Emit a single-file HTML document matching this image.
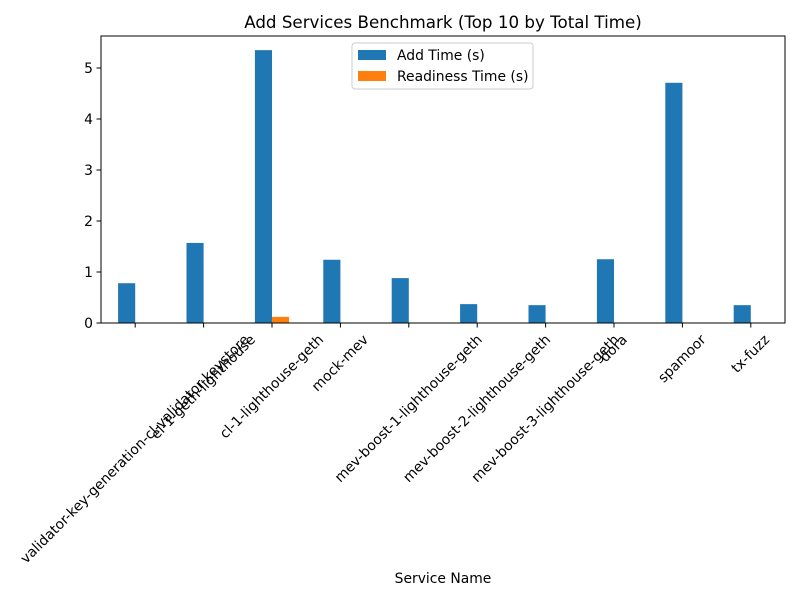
<!DOCTYPE html>
<html><head><meta charset="utf-8"><style>
body{margin:0;background:#fff}
svg{display:block;font-family:"DejaVu Sans","Liberation Sans",sans-serif}
</style></head><body>
<svg id="chart" width="800" height="600" viewBox="0 0 800 600">
<rect width="800" height="600" fill="#fff"/>
<text x="443" y="28" text-anchor="middle" font-size="16.7">Add Services Benchmark (Top 10 by Total Time)</text>
<g id="bars"></g>
<g id="axes"></g>
<text x="443" y="583" text-anchor="middle" font-size="13.9">Service Name</text>
<g>
<rect x="352" y="43" width="181" height="46" rx="3" fill="#fff" stroke="#ccc" fill-opacity="0.8"/>
<rect x="358" y="50" width="28" height="10" fill="#1f77b4"/>
<text x="397" y="60" font-size="13.9">Add Time (s)</text>
<rect x="358" y="71" width="28" height="10" fill="#ff7f0e"/>
<text x="397" y="81" font-size="13.9">Readiness Time (s)</text>
</g>
</svg>
<script>
const categories=["validator-key-generation-cl-validator-keystore","el-1-geth-lighthouse","cl-1-lighthouse-geth","mock-mev","mev-boost-1-lighthouse-geth","mev-boost-2-lighthouse-geth","mev-boost-3-lighthouse-geth","dora","spamoor","tx-fuzz"];
const addTime=[0.78,1.57,5.35,1.24,0.88,0.37,0.35,1.25,4.71,0.35];
const readinessTime=[0,0,0.12,0,0,0,0,0,0,0];
const yTicks=[0,1,2,3,4,5];
const NS="http://www.w3.org/2000/svg";
const L=101,R=785,T=36,B=323;
const step=(R-L)/categories.length;
const xc=i=>L+step*(i+0.5);
const y=v=>B-v*51;
const bw=step*0.25;
const bars=document.getElementById('bars'),axes=document.getElementById('axes');
function mk(tag,attrs,parent){const e=document.createElementNS(NS,tag);for(const k in attrs)e.setAttribute(k,attrs[k]);parent.appendChild(e);return e;}
categories.forEach((c,i)=>{
 const a=mk('rect',{x:xc(i)-bw,y:y(addTime[i]),width:bw,height:B-y(addTime[i]),fill:'#1f77b4'},bars);
 
 
 const r=mk('rect',{x:xc(i),y:y(readinessTime[i]),width:bw,height:B-y(readinessTime[i]),fill:'#ff7f0e'},bars);
 
 
 const t=mk('line',{x1:xc(i),x2:xc(i),y1:B,y2:B+4.5,stroke:'#000','stroke-width':1},axes);
 
 
 const lb=mk('text',{'font-size':13.9,'text-anchor':'end'},axes);
 lb.textContent=c;
 
 
 const len=lb.getComputedTextLength();const h=13.9;
 const ex=xc(i)+(len+h)*0.3536-0.707*3;
 const ey=B+10+0.707*10.5;
 lb.setAttribute('x',ex);lb.setAttribute('y',ey);
 lb.setAttribute('transform','rotate(-45 '+ex+' '+ey+')');
});
yTicks.forEach(v=>{
 const t=mk('line',{x1:L-4.5,x2:L,y1:y(v),y2:y(v),stroke:'#000','stroke-width':1},axes);
 
 
 const lb=mk('text',{x:L-8,y:y(v)+5,'font-size':13.9,'text-anchor':'end'},axes);
 lb.textContent=v;
 
 
});
const fr=mk('rect',{x:L,y:T,width:R-L,height:B-T,fill:'none',stroke:'#000','stroke-width':1},axes);


</script>
</body></html>
